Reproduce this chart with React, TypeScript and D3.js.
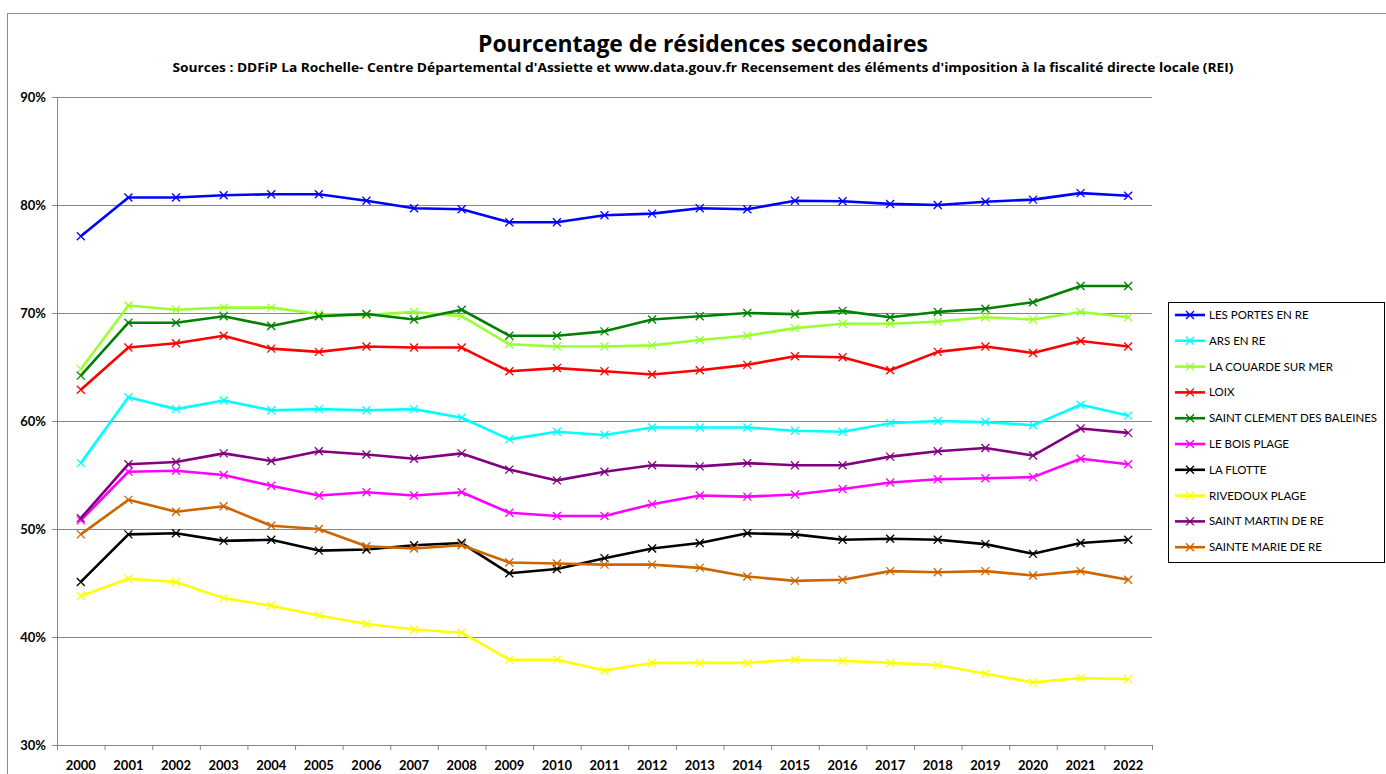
import React from "react";
import * as d3 from "d3";

const years = ["2000","2001","2002","2003","2004","2005","2006","2007","2008","2009","2010","2011","2012","2013","2014","2015","2016","2017","2018","2019","2020","2021","2022"];

const yTicks = [30, 40, 50, 60, 70, 80, 90];

const seriesNames = ["LES PORTES EN RE","ARS EN RE","LA COUARDE SUR MER","LOIX","SAINT CLEMENT DES BALEINES","LE BOIS PLAGE","LA FLOTTE","RIVEDOUX PLAGE","SAINT MARTIN DE RE","SAINTE MARIE DE RE"];
const seriesColors = ["#0000FF","#00FFFF","#99FF33","#FF0000","#008000","#FF00FF","#000000","#FFFF00","#800080","#CC6600"];

const lesPortes = [77.1,80.7,80.7,80.9,81.0,81.0,80.4,79.7,79.6,78.4,78.4,79.05,79.2,79.7,79.6,80.4,80.35,80.1,80.0,80.3,80.5,81.1,80.86];
const arsEnRe = [56.1,62.2,61.1,61.9,61.0,61.1,61.0,61.1,60.3,58.3,59.0,58.7,59.4,59.4,59.4,59.1,59.0,59.8,60.0,59.9,59.6,61.5,60.5];
const laCouarde = [64.8,70.7,70.3,70.5,70.5,69.9,69.8,70.1,69.7,67.1,66.9,66.9,67.0,67.5,67.9,68.6,69.0,69.0,69.2,69.6,69.4,70.1,69.6];
const loix = [62.9,66.8,67.2,67.9,66.7,66.4,66.9,66.8,66.8,64.6,64.9,64.6,64.3,64.7,65.2,66.0,65.9,64.7,66.4,66.9,66.3,67.4,66.9];
const saintClement = [64.2,69.1,69.1,69.7,68.8,69.7,69.9,69.4,70.3,67.9,67.9,68.3,69.4,69.7,70.0,69.9,70.2,69.6,70.1,70.4,71.0,72.5,72.5];
const leBoisPlage = [50.8,55.3,55.4,55.0,54.0,53.1,53.4,53.1,53.4,51.5,51.2,51.2,52.3,53.1,53.0,53.2,53.7,54.3,54.6,54.7,54.8,56.5,56.0];
const laFlotte = [45.1,49.5,49.6,48.9,49.0,48.0,48.1,48.5,48.7,45.9,46.3,47.3,48.2,48.7,49.6,49.5,49.0,49.1,49.0,48.6,47.7,48.7,49.0];
const rivedoux = [43.8,45.4,45.1,43.6,42.9,42.0,41.2,40.7,40.4,37.9,37.9,36.9,37.6,37.6,37.6,37.9,37.8,37.6,37.4,36.6,35.8,36.2,36.1];
const saintMartin = [51.0,56.0,56.2,57.0,56.3,57.2,56.9,56.5,57.0,55.5,54.5,55.3,55.9,55.8,56.1,55.9,55.9,56.7,57.2,57.5,56.8,59.3,58.9];
const sainteMarie = [49.5,52.7,51.6,52.1,50.3,50.0,48.4,48.2,48.5,46.9,46.8,46.7,46.7,46.4,45.6,45.2,45.3,46.1,46.0,46.1,45.7,46.1,45.3];

const seriesValues = [lesPortes, arsEnRe, laCouarde, loix, saintClement, leBoisPlage, laFlotte, rivedoux, saintMartin, sainteMarie];

const FONT = "Lato, 'Open Sans', 'Liberation Sans', sans-serif";
const TITLE_FONT = "'Open Sans', Lato, 'Liberation Sans', sans-serif";

function Marker({ x, y, color, s = 4 }: { x: number; y: number; color: string; s?: number }) {
  return (
    <path d={`M${x - s},${y - s}L${x + s},${y + s}M${x - s},${y + s}L${x + s},${y - s}`} stroke={color} strokeWidth={1.3} fill="none" />
  );
}

export default function App() {
  const W = 1386, H = 774;
  const left = 57, right = 1152, top = 97, bottom = 745;
  const x = d3.scaleBand<string>().domain(years).range([left, right]);
  const y = d3.scaleLinear().domain([30, 90]).range([bottom, top]);
  const cx = (yr: string) => (x(yr) as number) + x.bandwidth() / 2;

  const line = d3.line<number>().x((_, i) => cx(years[i])).y((v) => y(v));

  const legX = 1168, legY = 302, legW = 216, legH = 260;
  const legStep = 25.8;

  return (
    <svg width={W} height={H} style={{ position: "absolute", left: 0, top: 0, background: "#fff" }} fontFamily={FONT}>
      <rect x={0} y={0} width={W} height={H} fill="#fff" />
      <rect x={7.5} y={13.5} width={W} height={H} fill="none" stroke="#8c8c8c" strokeWidth={1} />
      <text x={703} y={52} textAnchor="middle" fontSize={22.5} fontWeight="bold" fill="#000" fontFamily={TITLE_FONT} textLength={450} lengthAdjust="spacingAndGlyphs">Pourcentage de résidences secondaires</text>
      <text x={703} y={72} textAnchor="middle" fontSize={12.6} fontWeight="bold" fill="#000" fontFamily={TITLE_FONT} textLength={1061} lengthAdjust="spacingAndGlyphs">Sources : DDFiP La Rochelle- Centre Départemental d'Assiette et www.data.gouv.fr Recensement des éléments d'imposition à la fiscalité directe locale (REI)</text>

      {yTicks.map((t) => (
        <g key={t}>
          <line x1={left} x2={right} y1={y(t) + 0.5} y2={y(t) + 0.5} stroke="#868686" strokeWidth={1} />
          <line x1={left - 5} x2={left} y1={y(t) + 0.5} y2={y(t) + 0.5} stroke="#868686" strokeWidth={1} />
          <text x={left - 11} y={y(t) + 5} textAnchor="end" fontSize={13} fontWeight="bold" fill="#000">{t}%</text>
        </g>
      ))}
      <line x1={left + 0.5} x2={left + 0.5} y1={top} y2={bottom + 5} stroke="#868686" strokeWidth={1} />
      {years.map((yr) => (
        <line key={"tk" + yr} x1={(x(yr) as number) + x.bandwidth() + 0.5} x2={(x(yr) as number) + x.bandwidth() + 0.5} y1={bottom} y2={bottom + 5} stroke="#868686" strokeWidth={1} />
      ))}
      {years.map((yr) => (
        <text key={"xl" + yr} x={cx(yr)} y={770} textAnchor="middle" fontSize={13} fontWeight="bold" fill="#000">{yr}</text>
      ))}

      {seriesValues.map((vals, si) => (
        <g key={seriesNames[si]}>
          <path d={line(vals) || ""} fill="none" stroke={seriesColors[si]} strokeWidth={2.6} strokeLinejoin="round" />
          {vals.map((v, i) => (
            <Marker key={i} x={cx(years[i])} y={y(v)} color={seriesColors[si]} />
          ))}
        </g>
      ))}

      <rect x={legX + 0.5} y={legY + 0.5} width={legW} height={legH} fill="#fff" stroke="#000" strokeWidth={1} />
      {seriesNames.map((n, i) => {
        const ly = legY + 13 + i * legStep;
        return (
          <g key={"lg" + n}>
            <line x1={legX + 7} x2={legX + 37} y1={ly} y2={ly} stroke={seriesColors[i]} strokeWidth={2.6} />
            <Marker x={legX + 22} y={ly} color={seriesColors[i]} />
            <text x={legX + 41} y={ly + 4} fontSize={11.5} fill="#000">{n}</text>
          </g>
        );
      })}
    </svg>
  );
}
